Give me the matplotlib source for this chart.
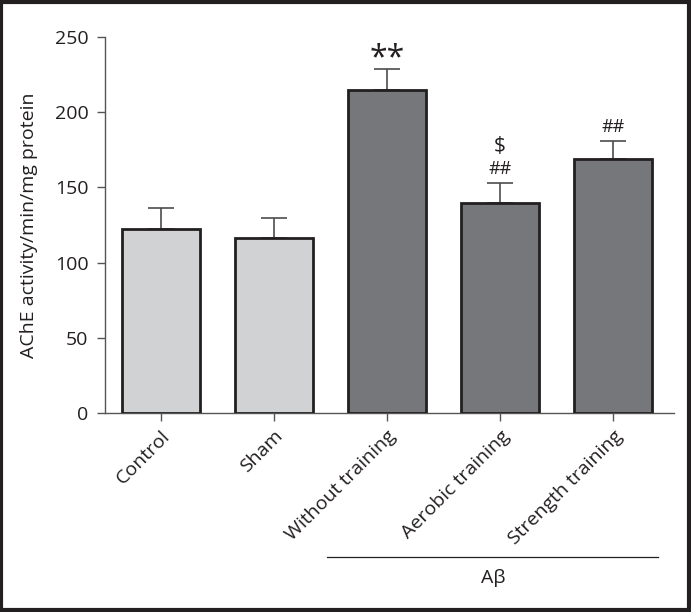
import matplotlib
matplotlib.use("Agg")
import matplotlib.pyplot as plt
from matplotlib.patches import Rectangle
from matplotlib.transforms import blended_transform_factory
import numpy as np

categories = ["Control", "Sham", "Without training", "Aerobic training", "Strength training"]
means = [122.5, 116.6, 214.8, 139.8, 168.7]
sem = [13.6, 13.3, 13.9, 13.3, 12.2]
bar_colors = ["#d1d2d4", "#d1d2d4", "#76777b", "#76777b", "#76777b"]
annotations = ["", "", "**", "##", "##"]
annot2 = ["", "", "", "$", ""]
yticks = [0, 50, 100, 150, 200, 250]
ylabel = "AChE activity/min/mg protein"
group_label = "Aβ"

plt.rcParams['font.family'] = ['Open Sans', 'DejaVu Sans']
txt = "#231f20"
fs = 14

fig = plt.figure(figsize=(6.91, 6.12), dpi=100)
ax = fig.add_axes([105/691, 1-413/612, (674-105)/691, 376/612])

x = np.arange(len(categories))
ax.bar(x, means, width=0.69, color=bar_colors, edgecolor="#231f20", linewidth=2.0, zorder=3)
ax.errorbar(x, means, yerr=[np.zeros(len(sem)), sem], fmt="none", ecolor="#4d4d4f",
            elinewidth=1.2, capsize=9.5, capthick=1.2, zorder=2)

for xi, m, s, a, b in zip(x, means, sem, annotations, annot2):
    top = m + s
    if a == "**":
        ax.text(xi, top - 4, "**", ha="center", va="bottom", fontsize=23, color=txt)
    elif a:
        ax.text(xi, top + 3, a, ha="center", va="bottom", fontsize=13, color=txt)
    if b:
        ax.text(xi, top + 17, b, ha="center", va="bottom", fontsize=15, color=txt)

ax.set_ylim(0, 250)
ax.set_xlim(-0.496, 4.54)
ax.set_yticks(yticks)
ax.set_xticks(x)
ax.set_xticklabels(categories, rotation=45, ha="right", va="top", rotation_mode="anchor",
                   fontsize=fs, color=txt)
ax.tick_params(axis="y", labelsize=fs, labelcolor=txt, length=6, width=1, color="#555555", pad=6)
ax.tick_params(axis="x", length=6, width=1, color="#555555", pad=4)
for s in ["top", "right"]:
    ax.spines[s].set_visible(False)
for s in ["left", "bottom"]:
    ax.spines[s].set_color("#555555")
    ax.spines[s].set_linewidth(1.0)
ax.set_ylabel(ylabel, fontsize=fs, color=txt)
ax.yaxis.set_label_coords(-0.117, 0.5)

tr = blended_transform_factory(ax.transData, fig.transFigure)
ax.plot([1.47, 4.40], [1-557/612, 1-557/612], color="#231f20", lw=0.9, transform=tr, clip_on=False)
ax.text(2.94, 1-578/612, group_label, transform=tr, ha="center", va="center", fontsize=fs, color=txt)

fig.patches.append(Rectangle((0.002, 0.003), 0.995, 0.993, transform=fig.transFigure,
                             fill=False, edgecolor="#231f20", linewidth=3))

fig.savefig("out.png", dpi=100)
